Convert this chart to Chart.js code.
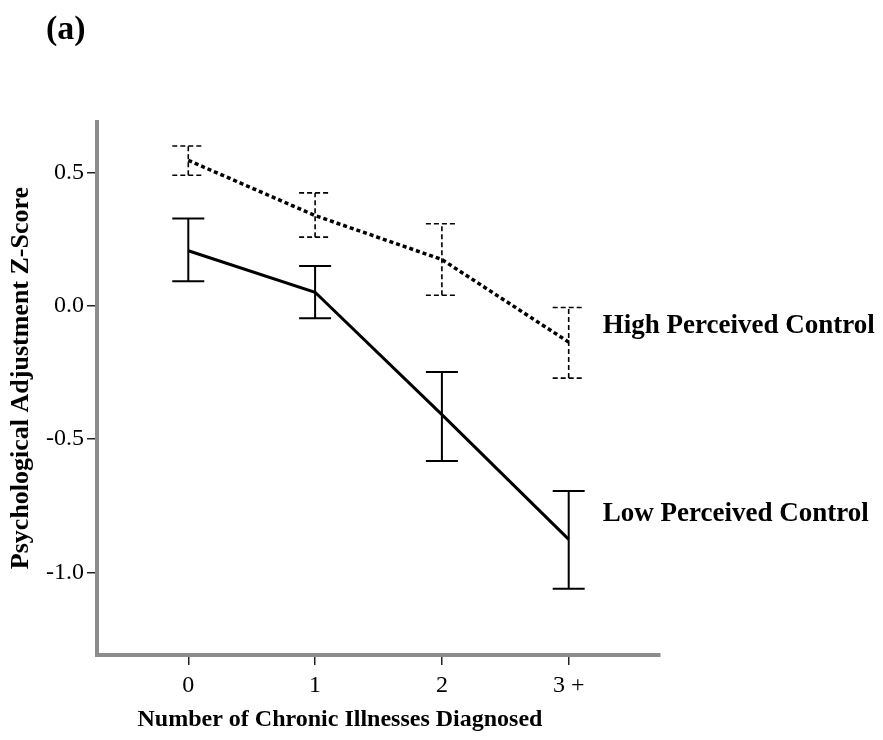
<!DOCTYPE html>
<html>
<head>
<meta charset="utf-8">
<script src="https://cdn.jsdelivr.net/npm/chart.js@4.4.1/dist/chart.umd.min.js"></script>
<style>
  html, body { margin: 0; padding: 0; background: #fff; }
  canvas { display: block; }
</style>
</head>
<body>
<canvas id="chart" width="883" height="740"></canvas>
<script>
// categories (x) and tick labels
const xLabels = ['0', '1', '2', '3 +'];
const yTicks = [-1.0, -0.5, 0.0, 0.5];

// High Perceived Control: means and error bar ends
const highMean = [0.546, 0.339, 0.174, -0.136];
const highLo = [0.49, 0.258, 0.04, -0.271];
const highHi = [0.60, 0.424, 0.308, -0.006];

// Low Perceived Control: means and error bar ends
const lowMean = [0.207, 0.051, -0.408, -0.876];
const lowLo = [0.092, -0.046, -0.582, -1.061];
const lowHi = [0.328, 0.15, -0.248, -0.695];

const seriesNames = ['High Perceived Control', 'Low Perceived Control'];

const serif = '"Liberation Serif", "Times New Roman", serif';

function toPoints(arr) {
    return arr.map((v, i) => ({ x: i, y: v }));
}

// error bars, line labels, panel letter and axis titles
const extras = {
    id: 'extras',
    afterDatasetsDraw(chart) {
        const ctx = chart.ctx;
        const xs = chart.scales.x;
        const ys = chart.scales.y;
        const bars = [
            { lo: highLo, hi: highHi, dash: [5, 3], width: 1.6 },
            { lo: lowLo, hi: lowHi, dash: [], width: 2 }
        ];
        ctx.save();
        ctx.strokeStyle = '#000';
        bars.forEach((b) => {
            ctx.setLineDash(b.dash);
            ctx.lineWidth = b.width;
            b.lo.forEach((lo, i) => {
                const px = xs.getPixelForValue(i);
                const y1 = ys.getPixelForValue(lo);
                const y2 = ys.getPixelForValue(b.hi[i]);
                ctx.beginPath();
                ctx.moveTo(px, y1);
                ctx.lineTo(px, y2);
                ctx.moveTo(px - 16, y1);
                ctx.lineTo(px + 16, y1);
                ctx.moveTo(px - 16, y2);
                ctx.lineTo(px + 16, y2);
                ctx.stroke();
            });
        });
        ctx.setLineDash([]);

        ctx.fillStyle = '#000';
        ctx.textBaseline = 'middle';
        ctx.textAlign = 'left';
        ctx.font = 'bold 27px ' + serif;
        const lx = xs.getPixelForValue(3) + 34;
        ctx.fillText(seriesNames[0], lx, ys.getPixelForValue(-0.075));
        ctx.fillText(seriesNames[1], lx, ys.getPixelForValue(-0.78));

        ctx.font = 'bold 34px ' + serif;
        ctx.fillText('(a)', 46, 30);

        ctx.font = 'bold 24px ' + serif;
        ctx.textAlign = 'center';
        ctx.fillText('Number of Chronic Illnesses Diagnosed', 340, 720);

        ctx.font = 'bold 26px ' + serif;
        ctx.translate(21, 378);
        ctx.rotate(-Math.PI / 2);
        ctx.fillText('Psychological Adjustment Z-Score', 0, 0);
        ctx.restore();
    }
};

new Chart(document.getElementById('chart'), {
    type: 'line',
    data: {
        datasets: [
            {
                label: seriesNames[0],
                data: toPoints(highMean),
                borderColor: '#000',
                borderWidth: 3.5,
                borderDash: [4, 3],
                pointRadius: 0,
                fill: false
            },
            {
                label: seriesNames[1],
                data: toPoints(lowMean),
                borderColor: '#000',
                borderWidth: 3,
                pointRadius: 0,
                fill: false
            }
        ]
    },
    options: {
        responsive: false,
        animation: false,
        layout: { padding: { top: 122, right: 223, left: 0, bottom: 0 } },
        plugins: {
            legend: { display: false },
            tooltip: { enabled: false }
        },
        scales: {
            x: {
                type: 'linear',
                min: -0.72,
                max: 3.72,
                afterFit: (s) => { s.height = 85; },
                afterBuildTicks: (s) => { s.ticks = xLabels.map((_, i) => ({ value: i })); },
                ticks: {
                    color: '#000',
                    padding: 6,
                    font: { family: serif, size: 24 },
                    callback: (v) => xLabels[v]
                },
                grid: { drawOnChartArea: false, tickLength: 10, color: '#222', lineWidth: 1.5 },
                border: { color: '#8c8c8c', width: 4 }
            },
            y: {
                min: -1.31,
                max: 0.69,
                afterFit: (s) => { s.width = 97; },
                afterBuildTicks: (s) => { s.ticks = yTicks.map((v) => ({ value: v })); },
                ticks: {
                    color: '#000',
                    padding: 3,
                    font: { family: serif, size: 24 },
                    callback: (v) => v.toFixed(1)
                },
                grid: { drawOnChartArea: false, tickLength: 10, color: '#222', lineWidth: 1.5 },
                border: { color: '#8c8c8c', width: 4 }
            }
        }
    },
    plugins: [extras]
});
</script>
</body>
</html>
